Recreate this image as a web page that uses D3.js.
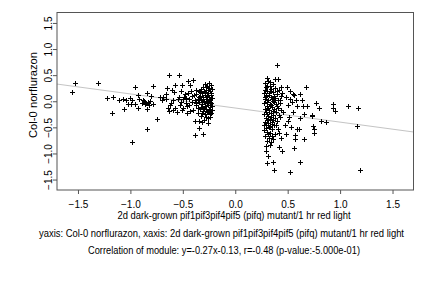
<!DOCTYPE html>
<html>
<head>
<meta charset="utf-8">
<script src="https://cdn.jsdelivr.net/npm/d3@7"></script>
<style>
  body { margin: 0; background: #fff; }
  svg text { font-family: "Liberation Sans", Arial, sans-serif; fill: #000; }
</style>
</head>
<body>
<div id="chart"></div>
<script>
// points, grouped by region [x, y]
const leftFar = [[-1.56,0.17],[-1.53,0.35],[-1.31,0.35],[-1.22,0.07],[-1.17,0.08],[-1.11,0.02],[-1.07,0.05],[-1.04,0.03],[-1.00,0.07],[-0.98,0.02],[-0.93,0.12],[-0.92,0.04],[-1.02,-0.05],[-0.99,-0.05],[-0.96,-0.05],[-1.06,-0.14],[-0.93,-0.12],[-1.18,-0.23],[-0.98,-0.79],[-0.96,0.28]];

const leftMid = [[-0.63,0.50],[-0.54,0.50],[-0.78,0.30],[-0.45,0.39],[-0.40,0.40],[-0.51,0.32],[-0.57,0.31],[-0.43,0.31],[-0.65,0.26],[-0.60,0.22],[-0.58,0.18],[-0.66,0.14],[-0.84,0.16],[-0.72,0.09],[-0.69,0.08],[-0.80,0.10],[-0.88,0.02],[-0.85,-0.03],[-0.81,0.00],[-0.78,-0.06],[-0.84,-0.15],[-0.75,-0.34],[-0.84,-0.53],[-0.63,-0.18],[-0.59,-0.16],[-0.61,-0.03],[-0.59,0.03],[-0.54,0.09],[-0.49,0.09],[-0.52,-0.02],[-0.46,-0.10],[-0.43,-0.19],[-0.40,-0.16],[-0.46,-0.22],
  [-0.87,0.00],[-0.86,-0.06],[-0.83,-0.02],[-0.82,-0.08],[-0.89,-0.04],[-0.55,0.05],[-0.50,0.04],[-0.47,0.06],[-0.44,0.05],[-0.41,0.10],[-0.48,0.13],[-0.45,0.16],[-0.42,0.20],[-0.52,0.20],[-0.62,-0.08],[-0.57,-0.12],[-0.53,-0.07],[-0.50,-0.12],[-0.47,-0.04],[-0.44,-0.08],[-0.41,-0.02],[-0.38,0.02],[-0.39,0.12],[-0.37,0.22],[-0.66,0.05],[-0.70,0.03],[-0.56,-0.20],[-0.51,-0.17],[-0.64,-0.12]];

const leftDense = [[-0.38,-0.38],[-0.35,-0.51],[-0.31,-0.62],[-0.35,-0.38],[-0.38,-0.64],[-0.30,-0.35],[-0.26,-0.33],[-0.24,-0.30],[-0.29,-0.25],[-0.33,-0.28],[-0.36,-0.22],[-0.27,-0.20],[-0.23,-0.22],[-0.31,-0.18],[-0.34,-0.15],[-0.25,-0.14],[-0.22,-0.17],[-0.29,-0.10],[-0.37,-0.08],[-0.32,-0.06],[-0.26,-0.07],[-0.23,-0.04],[-0.35,-0.02],[-0.30,-0.01],[-0.27,0.01],[-0.24,0.02],[-0.33,0.03],[-0.36,0.05],[-0.28,0.05],[-0.22,0.06],[-0.31,0.08],[-0.25,0.09],[-0.34,0.10],[-0.29,0.12],[-0.23,0.12],[-0.37,0.14],[-0.32,0.15],[-0.26,0.16],[-0.24,0.19],[-0.30,0.19],[-0.35,0.20],[-0.28,0.22],[-0.22,0.23],[-0.33,0.24],[-0.25,0.26],[-0.31,0.28],[-0.27,0.30],[-0.23,0.31],[-0.29,0.34],[-0.25,0.35],[-0.28,-0.30],[-0.32,-0.40],[-0.26,-0.42],[-0.24,-0.11],[-0.27,-0.03],[-0.30,0.00],[-0.24,-0.01],[-0.33,-0.11],[-0.36,-0.12],[-0.28,-0.15],[-0.22,-0.09],[-0.25,0.04],[-0.31,0.04],[-0.27,0.10],[-0.35,0.08],[-0.23,0.15],[-0.29,0.17],[-0.26,0.21],[-0.32,-0.22],[-0.24,-0.25],[-0.37,-0.03],[-0.30,-0.13],[-0.26,-0.18],[-0.34,0.17],[-0.28,0.27]];

const rightDense = [[0.28,0.35],[0.31,0.38],[0.33,0.30],[0.36,0.33],[0.29,0.27],[0.34,0.24],[0.38,0.25],[0.42,0.22],[0.30,0.20],[0.27,0.16],[0.32,0.15],[0.36,0.17],[0.40,0.14],[0.44,0.10],[0.29,0.10],[0.34,0.08],[0.38,0.06],[0.28,0.04],[0.31,0.02],[0.36,0.00],[0.41,0.03],[0.27,-0.03],[0.33,-0.05],[0.39,-0.06],[0.43,-0.04],[0.30,-0.09],[0.35,-0.11],[0.28,-0.14],[0.32,-0.16],[0.37,-0.15],[0.41,-0.13],[0.29,-0.20],[0.34,-0.22],[0.39,-0.21],[0.27,-0.25],[0.31,-0.28],[0.36,-0.27],[0.42,-0.26],[0.29,-0.32],[0.33,-0.34],[0.38,-0.33],[0.28,-0.39],[0.31,-0.41],[0.35,-0.40],[0.40,-0.38],[0.27,-0.45],[0.33,-0.47],[0.37,-0.46],[0.29,-0.52],[0.35,-0.54],[0.41,-0.53],[0.30,-0.58],[0.33,-0.61],[0.38,-0.63],[0.28,-0.66],[0.32,-0.70],[0.36,-0.72],[0.30,-0.77],[0.34,-0.79],[0.29,-0.86],[0.32,0.12],[0.35,0.05],[0.30,-0.02],[0.34,-0.08],[0.31,-0.13],[0.36,-0.19],[0.30,-0.24],[0.34,-0.30],[0.30,-0.36],[0.35,-0.44],[0.32,-0.50],[0.31,-0.63],[0.28,0.08],[0.37,0.11],[0.33,0.19],[0.40,0.19],[0.28,0.22],[0.43,0.02],[0.40,-0.09],[0.44,-0.17],[0.43,-0.31],[0.39,-0.45],[0.42,-0.60],[0.35,-0.66],[0.27,-0.55],[0.33,0.36],[0.30,0.30],[0.37,-0.01],[0.29,-0.46],[0.36,-0.35]];

const rightSpread = [[0.40,0.69],[0.30,0.44],[0.38,0.43],[0.41,0.43],[0.44,0.28],[0.67,0.27],[0.55,0.14],[0.62,0.14],[0.56,0.12],[0.77,-0.04],[0.80,-0.12],[0.93,-0.06],[0.93,-0.12],[0.95,-0.19],[1.08,-0.09],[1.17,-0.12],[1.16,-0.47],[1.19,-1.32],[0.52,-1.35],[0.37,-1.32],[0.30,-1.19],[0.36,-1.16],[0.62,-1.17],[0.56,-0.90],[0.45,-0.96],[0.29,-0.96],[0.33,-0.83],[0.42,-0.87],[0.31,-1.05],[0.66,-0.73],[0.57,-0.73],[0.57,-0.65],[0.75,-0.60],[0.75,-0.54],[0.74,-0.47],[0.82,-0.37],[0.87,-0.40],[0.73,-0.26],[0.73,-0.29],[0.66,-0.24],[0.62,-0.33],[0.61,-0.54],[0.59,-0.54],[0.68,-0.10],[0.65,-0.10],[0.59,-0.10],[0.49,0.28],[0.52,0.20],[0.58,0.02],[0.64,0.03],[0.54,-0.02],[0.50,-0.38],[0.47,-0.45],[0.53,-0.50],[0.48,-0.62],[0.44,-0.70],[0.51,-0.30],[0.55,-0.20],[0.46,-0.20],[0.48,0.08],[0.52,0.05],[0.45,0.15],[0.50,-0.08]];

const tickValues = [-1.5, -1.0, -0.5, 0.0, 0.5, 1.0, 1.5];
const slope = -0.27, intercept = -0.13;

const xLabel = "2d dark-grown pif1pif3pif4pif5 (pifq) mutant/1 hr red light";
const yLabel = "Col-0 norflurazon";
const title1 = "yaxis: Col-0 norflurazon, xaxis: 2d dark-grown pif1pif3pif4pif5 (pifq) mutant/1 hr red light";
const title2 = "Correlation of module: y=-0.27x-0.13, r=-0.48 (p-value:-5.000e-01)";

const W = 432, H = 288;
const box = { left: 57, right: 413.5, top: 12.5, bottom: 190 };

const svg = d3.select("#chart").append("svg")
  .attr("width", W).attr("height", H);

const x = d3.scaleLinear().domain([-1.7, 1.7]).range([box.left, box.right]);
const y = d3.scaleLinear().domain([-1.7, 1.7]).range([box.bottom, box.top]);

// regression line
const xr = x.domain();
svg.append("line")
  .attr("x1", x(xr[0])).attr("y1", y(slope * xr[0] + intercept))
  .attr("x2", x(xr[1])).attr("y2", y(slope * xr[1] + intercept))
  .attr("stroke", "#c4c4c4").attr("stroke-width", 1);

// points
const allPoints = leftFar.concat(leftMid, leftDense, rightDense, rightSpread);
svg.append("g").selectAll("path")
  .data(allPoints)
  .join("path")
  .attr("transform", d => `translate(${Math.round(x(d[0]))},${Math.round(y(d[1]))})`)
  .attr("d", "M-2,0.5H3M0.5,-2V3")
  .attr("stroke", "#000").attr("stroke-width", 1).attr("fill", "none");

// box
svg.append("rect")
  .attr("x", box.left).attr("y", box.top)
  .attr("width", box.right - box.left).attr("height", box.bottom - box.top)
  .attr("fill", "none").attr("stroke", "#555").attr("stroke-width", 1);

// axes
const xAxis = svg.append("g")
  .attr("transform", `translate(0,${box.bottom})`)
  .call(d3.axisBottom(x).tickValues(tickValues).tickSize(4).tickFormat(d3.format(".1f")));
xAxis.select(".domain").remove();
xAxis.selectAll("line").attr("stroke", "#555");
xAxis.selectAll("text").attr("y", 11).attr("font-size", 10)
  .style("font-family", "'Liberation Sans', Arial, sans-serif");

const yAxis = svg.append("g")
  .attr("transform", `translate(${box.left},0)`)
  .call(d3.axisLeft(y).tickValues(tickValues).tickSize(4).tickFormat(d3.format(".1f")));
yAxis.select(".domain").remove();
yAxis.selectAll("line").attr("stroke", "#555");
yAxis.selectAll("text")
  .attr("x", 0).attr("dy", 0)
  .attr("transform", "translate(-5,0) rotate(-90)")
  .attr("text-anchor", "middle")
  .attr("font-size", 10)
  .style("font-family", "'Liberation Sans', Arial, sans-serif");

// labels
svg.append("text")
  .attr("x", 234).attr("y", 219)
  .attr("text-anchor", "middle").attr("font-size", 10)
  .attr("textLength", 233).attr("lengthAdjust", "spacingAndGlyphs")
  .text(xLabel);

svg.append("text")
  .attr("transform", "translate(37,95) rotate(-90)")
  .attr("text-anchor", "middle").attr("font-size", 10)
  .attr("textLength", 86).attr("lengthAdjust", "spacingAndGlyphs")
  .text(yLabel);

svg.append("text")
  .attr("x", 221.5).attr("y", 236.5)
  .attr("text-anchor", "middle").attr("font-size", 10)
  .attr("textLength", 365).attr("lengthAdjust", "spacingAndGlyphs")
  .text(title1);

svg.append("text")
  .attr("x", 224).attr("y", 253.5)
  .attr("text-anchor", "middle").attr("font-size", 10)
  .attr("textLength", 272).attr("lengthAdjust", "spacingAndGlyphs")
  .text(title2);
</script>
</body>
</html>
